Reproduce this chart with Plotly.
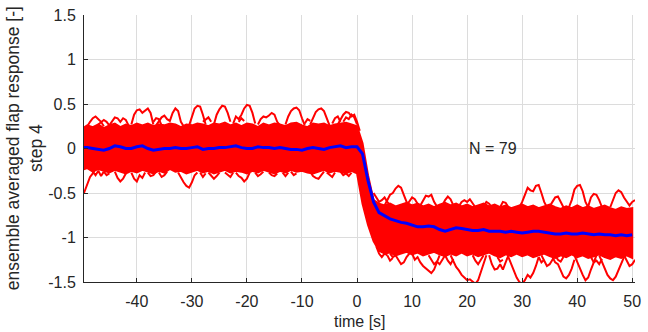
import plotly.graph_objects as go

# Eje de tiempo (s), una muestra por segundo
TIME = list(range(-50, 51))

# Borde superior / inferior del haz denso de las 79 respuestas
BAND_UPPER = [
    0.22, 0.26, 0.24, 0.27, 0.23, 0.26, 0.28, 0.24, 0.27, 0.25,
    0.28, 0.26, 0.28, 0.25, 0.27, 0.26, 0.28, 0.27, 0.24, 0.27,
    0.26, 0.28, 0.27, 0.25, 0.28, 0.27, 0.29, 0.26, 0.28, 0.25,
    0.28, 0.27, 0.24, 0.28, 0.26, 0.28, 0.27, 0.25, 0.28, 0.29,
    0.26, 0.24, 0.28, 0.27, 0.28, 0.25, 0.27, 0.28, 0.29, 0.27,
    0.25, 0.06, -0.3, -0.58, -0.62, -0.64, -0.62, -0.65, -0.63, -0.61,
    -0.64, -0.62, -0.65, -0.63, -0.66, -0.63, -0.61, -0.64, -0.62, -0.65,
    -0.63, -0.66, -0.64, -0.62, -0.65, -0.63, -0.66, -0.64, -0.67, -0.65,
    -0.63, -0.66, -0.64, -0.67, -0.65, -0.63, -0.66, -0.68, -0.65, -0.67,
    -0.64, -0.67, -0.65, -0.68, -0.66, -0.64, -0.67, -0.69, -0.66, -0.68,
    -0.67,
]
BAND_LOWER = [
    -0.24, -0.22, -0.26, -0.23, -0.25, -0.27, -0.24, -0.26, -0.28, -0.25,
    -0.27, -0.24, -0.26, -0.28, -0.25, -0.27, -0.23, -0.26, -0.25, -0.28,
    -0.26, -0.24, -0.27, -0.25, -0.28, -0.26, -0.24, -0.27, -0.25, -0.26,
    -0.28, -0.25, -0.27, -0.24, -0.26, -0.28, -0.25, -0.27, -0.24, -0.26,
    -0.25, -0.27, -0.28, -0.26, -0.24, -0.27, -0.25, -0.26, -0.28, -0.25,
    -0.28, -0.62, -0.86, -1.04, -1.15, -1.18, -1.17, -1.2, -1.18, -1.16,
    -1.19, -1.17, -1.2, -1.18, -1.16, -1.19, -1.21, -1.18, -1.2, -1.17,
    -1.2, -1.18, -1.21, -1.19, -1.17, -1.2, -1.22, -1.19, -1.21, -1.18,
    -1.21, -1.19, -1.22, -1.2, -1.18, -1.21, -1.23, -1.2, -1.22, -1.19,
    -1.22, -1.2, -1.23, -1.21, -1.19, -1.22, -1.24, -1.21, -1.23, -1.2,
    -1.23,
]

# Media del conjunto (línea azul)
MEAN = [
    0.01, 0.01, 0.0, -0.01, -0.02, 0.0, 0.03, 0.02, 0.0, 0.0,
    0.02, 0.03, 0.0, -0.02, -0.01, 0.0, 0.0, 0.01, 0.0, 0.0,
    0.01, 0.02, -0.01, 0.0, 0.0, 0.01, 0.01, 0.02, 0.03, 0.01,
    0.0, 0.0, 0.02, 0.01, 0.01, 0.0, 0.01, 0.0, -0.01, -0.01,
    -0.02, 0.0, 0.01, 0.0, -0.01, 0.01, 0.02, 0.03, 0.01, 0.02,
    0.02, -0.06, -0.36, -0.6, -0.72, -0.76, -0.79, -0.81, -0.83, -0.84,
    -0.86, -0.88, -0.88, -0.87, -0.88, -0.91, -0.93, -0.91, -0.89, -0.9,
    -0.91, -0.92, -0.92, -0.91, -0.93, -0.93, -0.93, -0.94, -0.93, -0.94,
    -0.95, -0.94, -0.93, -0.93, -0.94, -0.95, -0.96, -0.96, -0.95, -0.96,
    -0.96, -0.95, -0.96, -0.97, -0.96, -0.97, -0.97, -0.98, -0.97, -0.98,
    -0.97,
]

# Trazas individuales que salen del haz: (tiempo, respuesta)
PRE_UP = [
    [(-49.6, 0.22), (-49, 0.25), (-48.5, 0.3), (-48, 0.34), (-47.5, 0.36), (-47, 0.33), (-46.5, 0.3), (-46, 0.25)],
    [(-47, 0.27), (-46, 0.32), (-45.5, 0.3), (-45, 0.26)],
    [(-45, 0.26), (-44.5, 0.31), (-44, 0.35), (-43.5, 0.34), (-43, 0.3), (-42.5, 0.34), (-42, 0.32), (-41.5, 0.26)],
    [(-41, 0.27), (-40.5, 0.38), (-40, 0.43), (-39.5, 0.44), (-39, 0.4), (-38.5, 0.43), (-38, 0.45), (-37.5, 0.4), (-37, 0.27)],
    [(-37, 0.3), (-36.5, 0.34), (-36, 0.33), (-35.5, 0.26)],
    [(-36.5, 0.26), (-36, 0.3), (-35.5, 0.35), (-35, 0.37), (-34.5, 0.33), (-34, 0.31), (-33.5, 0.4), (-33, 0.45), (-32.5, 0.42), (-32, 0.3), (-31.5, 0.25)],
    [(-30.5, 0.26), (-30, 0.36), (-29.5, 0.45), (-29, 0.48), (-28.5, 0.47), (-28, 0.38), (-27.5, 0.27)],
    [(-28, 0.3), (-27.5, 0.33), (-27, 0.35), (-26.5, 0.3)],
    [(-26, 0.27), (-25.5, 0.38), (-25, 0.44), (-24.5, 0.48), (-24, 0.47), (-23.5, 0.4), (-23, 0.3)],
    [(-22.5, 0.28), (-22, 0.36), (-21.5, 0.33), (-21, 0.38), (-20.5, 0.45), (-20, 0.49), (-19.5, 0.48), (-19, 0.4), (-18.5, 0.28)],
    [(-21.5, 0.3), (-21, 0.34), (-20.5, 0.31)],
    [(-18, 0.27), (-17.5, 0.33), (-17, 0.36), (-16.5, 0.35), (-16, 0.37), (-15.5, 0.4), (-15, 0.38), (-14.5, 0.3), (-14, 0.26)],
    [(-13, 0.27), (-12.5, 0.36), (-12, 0.42), (-11.5, 0.45), (-11, 0.46), (-10.5, 0.43), (-10, 0.34), (-9.5, 0.26)],
    [(-9.5, 0.28), (-9, 0.33), (-8.5, 0.31)],
    [(-8.5, 0.27), (-8, 0.35), (-7.5, 0.41), (-7, 0.44), (-6.5, 0.45), (-6, 0.42), (-5.5, 0.33), (-5, 0.26)],
    [(-4.5, 0.28), (-4, 0.34), (-3.5, 0.36), (-3, 0.3)],
    [(-3.5, 0.27), (-3, 0.33), (-2.5, 0.38), (-2, 0.41), (-1.5, 0.4), (-1, 0.36), (-0.5, 0.38), (0, 0.3), (0.5, 0.2)],
    [(-2.5, 0.3), (-2, 0.35), (-1.5, 0.33), (-1, 0.38), (-0.5, 0.35), (0, 0.27)],
]
PRE_DOWN = [
    [(-49.6, -0.5), (-49.3, -0.45), (-49, -0.4), (-48.5, -0.32), (-48, -0.28), (-47.5, -0.22)],
    [(-48, -0.26), (-47.5, -0.3), (-47, -0.25), (-46.5, -0.31), (-46, -0.26)],
    [(-46, -0.26), (-45.5, -0.3), (-45, -0.28)],
    [(-44, -0.26), (-43.5, -0.33), (-43, -0.37), (-42.5, -0.34), (-42, -0.28)],
    [(-41, -0.27), (-40.5, -0.34), (-40, -0.37), (-39.5, -0.3), (-39, -0.33), (-38.5, -0.27)],
    [(-38, -0.27), (-37.5, -0.31), (-37, -0.3), (-36.5, -0.26)],
    [(-36, -0.27), (-35.5, -0.32), (-35, -0.3), (-34.5, -0.26)],
    [(-32.5, -0.27), (-32, -0.33), (-31.5, -0.38), (-31, -0.42), (-30.5, -0.44), (-30, -0.38), (-29.5, -0.3), (-29, -0.27)],
    [(-28.5, -0.27), (-28, -0.32), (-27.5, -0.28)],
    [(-27, -0.27), (-26.5, -0.3), (-26, -0.34), (-25.5, -0.31), (-25, -0.27)],
    [(-24, -0.27), (-23.5, -0.3), (-23, -0.32), (-22.5, -0.27)],
    [(-22, -0.27), (-21.5, -0.31), (-21, -0.33), (-20.5, -0.37), (-20, -0.34), (-19.5, -0.27)],
    [(-18.5, -0.27), (-18, -0.31), (-17.5, -0.29), (-17, -0.26)],
    [(-16, -0.27), (-15.5, -0.3), (-15, -0.31), (-14.5, -0.28)],
    [(-13.5, -0.27), (-13, -0.31), (-12.5, -0.27)],
    [(-12, -0.26), (-11.5, -0.3), (-11, -0.28)],
    [(-8.5, -0.26), (-8, -0.31), (-7.5, -0.33), (-7, -0.34), (-6.5, -0.3), (-6, -0.26)],
    [(-5.5, -0.27), (-5, -0.3), (-4.5, -0.32), (-4, -0.27)],
    [(-3, -0.26), (-2.5, -0.3), (-2, -0.28), (-1.5, -0.31), (-1, -0.27)],
]
POST_UP = [
    [(3, -0.5), (3.5, -0.55), (4, -0.6), (4.5, -0.58), (5, -0.55), (5.5, -0.6), (6, -0.64)],
    [(5, -0.64), (5.5, -0.58), (6, -0.52), (6.5, -0.5), (7, -0.45), (7.5, -0.42), (8, -0.44), (8.5, -0.52), (9, -0.6), (9.5, -0.65)],
    [(9, -0.64), (9.5, -0.6), (10, -0.55), (10.5, -0.57), (11, -0.62), (11.5, -0.65)],
    [(11.5, -0.64), (12, -0.58), (12.5, -0.53), (13, -0.54), (13.5, -0.52), (14, -0.6), (14.5, -0.65)],
    [(15.5, -0.64), (16, -0.58), (16.5, -0.54), (17, -0.57), (17.5, -0.64)],
    [(18.5, -0.65), (19, -0.6), (19.5, -0.58), (20, -0.6), (20.5, -0.57), (21, -0.61), (21.5, -0.66)],
    [(23, -0.65), (23.5, -0.6), (24, -0.62), (24.5, -0.66)],
    [(26, -0.66), (26.5, -0.6), (27, -0.61), (27.5, -0.66)],
    [(29.5, -0.66), (30, -0.6), (30.5, -0.52), (31, -0.44), (31.5, -0.47), (32, -0.48), (32.5, -0.42), (33, -0.41), (33.5, -0.5), (34, -0.6), (34.5, -0.66)],
    [(35, -0.65), (35.5, -0.6), (36, -0.55), (36.5, -0.54), (37, -0.6), (37.5, -0.66)],
    [(38.5, -0.66), (39, -0.58), (39.5, -0.46), (40, -0.42), (40.5, -0.41), (41, -0.48), (41.5, -0.6), (42, -0.66)],
    [(42, -0.65), (42.5, -0.55), (43, -0.51), (43.5, -0.52), (44, -0.58), (44.5, -0.66)],
    [(46, -0.66), (46.5, -0.58), (47, -0.5), (47.5, -0.47), (48, -0.49), (48.5, -0.55), (49, -0.6), (49.5, -0.64), (50, -0.6), (50.5, -0.58)],
]
POST_DOWN = [
    [(3.5, -1.1), (4, -1.18), (4.5, -1.22), (5, -1.18), (5.5, -1.2)],
    [(5.5, -1.2), (6, -1.26), (6.5, -1.23)],
    [(6, -1.18), (6.5, -1.22), (7, -1.2), (7.5, -1.25), (8, -1.3), (8.5, -1.28), (9, -1.22), (9.5, -1.18)],
    [(10, -1.18), (10.5, -1.25), (11, -1.22), (11.5, -1.28), (12, -1.32), (12.5, -1.35), (13, -1.38), (13.5, -1.4), (14, -1.36), (14.5, -1.28), (15, -1.2)],
    [(13, -1.2), (13.5, -1.25), (14, -1.3), (14.5, -1.27), (15, -1.3), (15.5, -1.25), (16, -1.2)],
    [(16, -1.2), (16.5, -1.26), (17, -1.3), (17.5, -1.24)],
    [(17, -1.2), (17.5, -1.27), (18, -1.33), (18.5, -1.37), (19, -1.42), (19.5, -1.45), (20, -1.48), (20.5, -1.47), (21, -1.5), (21.5, -1.52), (22, -1.48), (22.5, -1.38), (23, -1.28), (23.5, -1.2)],
    [(21, -1.2), (21.5, -1.26), (22, -1.3), (22.5, -1.25), (23, -1.2)],
    [(24, -1.2), (24.5, -1.3), (25, -1.36), (25.5, -1.35), (26, -1.3), (26.5, -1.36), (27, -1.28), (27.5, -1.2)],
    [(25.5, -1.22), (26, -1.27), (26.5, -1.25)],
    [(27.5, -1.22), (28, -1.3), (28.5, -1.38), (29, -1.45), (29.5, -1.5), (30, -1.52), (30.5, -1.48), (31, -1.42), (31.5, -1.45), (32, -1.4), (32.5, -1.32), (33, -1.22)],
    [(33, -1.22), (33.5, -1.28), (34, -1.25)],
    [(33.5, -1.2), (34, -1.27), (34.5, -1.32), (35, -1.3), (35.5, -1.25), (36, -1.2)],
    [(35.5, -1.22), (36, -1.28), (36.5, -1.3), (37, -1.38), (37.5, -1.44), (38, -1.46), (38.5, -1.42), (39, -1.35), (39.5, -1.25)],
    [(36, -1.2), (36.5, -1.25), (37, -1.27), (37.5, -1.22)],
    [(39.5, -1.2), (40, -1.28), (40.5, -1.35), (41, -1.42), (41.5, -1.48), (42, -1.45), (42.5, -1.36), (43, -1.27), (43.5, -1.2)],
    [(42.5, -1.22), (43, -1.28), (43.5, -1.26), (44, -1.3), (44.5, -1.24)],
    [(44, -1.2), (44.5, -1.28), (45, -1.36), (45.5, -1.42), (46, -1.46), (46.5, -1.48), (47, -1.44), (47.5, -1.36), (48, -1.28), (48.5, -1.22)],
    [(48.5, -1.2), (49, -1.27), (49.5, -1.32), (50, -1.3), (50.5, -1.25)],
]

X_TICKS = [-40, -30, -20, -10, 0, 10, 20, 30, 40, 50]
Y_TICKS = [-1.5, -1, -0.5, 0, 0.5, 1, 1.5]
N_TRACES = 79

ROJO = "#ff0000"
AZUL = "#0000ff"
GRIS = "#262626"


def a_xy(segmentos):
    # une los tramos en una sola traza separados por None
    xs, ys = [], []
    for seg in segmentos:
        for t, v in seg:
            xs.append(t)
            ys.append(v)
        xs.append(None)
        ys.append(None)
    return xs, ys


def generar_grafico():
    fig = go.Figure()

    # haz denso
    fig.add_trace(go.Scatter(
        x=TIME + TIME[::-1], y=BAND_UPPER + BAND_LOWER[::-1],
        fill="toself", fillcolor=ROJO, mode="lines",
        line=dict(color=ROJO, width=2), hoverinfo="skip"))

    for grupo in (PRE_UP, PRE_DOWN, POST_UP, POST_DOWN):
        xs, ys = a_xy(grupo)
        fig.add_trace(go.Scatter(x=xs, y=ys, mode="lines",
                                 line=dict(color=ROJO, width=2),
                                 connectgaps=False))

    fig.add_trace(go.Scatter(x=TIME, y=MEAN, mode="lines",
                             line=dict(color=AZUL, width=3)))

    fig.update_layout(
        width=648, height=332,
        margin=dict(l=84, r=7, t=14, b=50),
        plot_bgcolor="white", paper_bgcolor="white",
        showlegend=False,
        font=dict(family="Liberation Sans, Arial, sans-serif", size=16, color=GRIS),
    )
    fig.update_xaxes(
        range=[-49.6, 50.5], tickvals=X_TICKS,
        ticktext=[str(v) for v in X_TICKS],
        ticks="inside", ticklen=4, tickcolor=GRIS,
        showline=True, linecolor=GRIS, linewidth=1,
        showgrid=True, gridcolor="#dcdcdc", zeroline=False,
        ticklabelstandoff=5,
    )
    fig.update_yaxes(
        range=[-1.5, 1.5], tickvals=Y_TICKS,
        ticktext=[f"{v:g}" for v in Y_TICKS],
        ticks="inside", ticklen=4, tickcolor=GRIS,
        showline=True, linecolor=GRIS, linewidth=1,
        showgrid=True, gridcolor="#dcdcdc", zeroline=False,
        ticklabelstandoff=4,
    )

    fig.add_annotation(x=0.5, y=-40 / 268, xref="paper", yref="paper",
                       text="time [s]", showarrow=False,
                       xanchor="center", yanchor="middle")
    fig.add_annotation(x=-60 / 557, y=0.5, xref="paper", yref="paper",
                       text="ensemble averaged flap response [-]<br>step 4",
                       textangle=-90, showarrow=False,
                       xanchor="center", yanchor="middle", font=dict(size=17.5))
    fig.add_annotation(x=20, y=0, text=f"N = {N_TRACES}", showarrow=False,
                       xanchor="left", yanchor="middle")

    # quitar el margen por defecto del body para que la figura ocupe la ventana
    fig.write_html("out.html", config={"displayModeBar": False},
                   post_script="document.body.style.margin='0';")


if __name__ == "__main__":
    generar_grafico()
